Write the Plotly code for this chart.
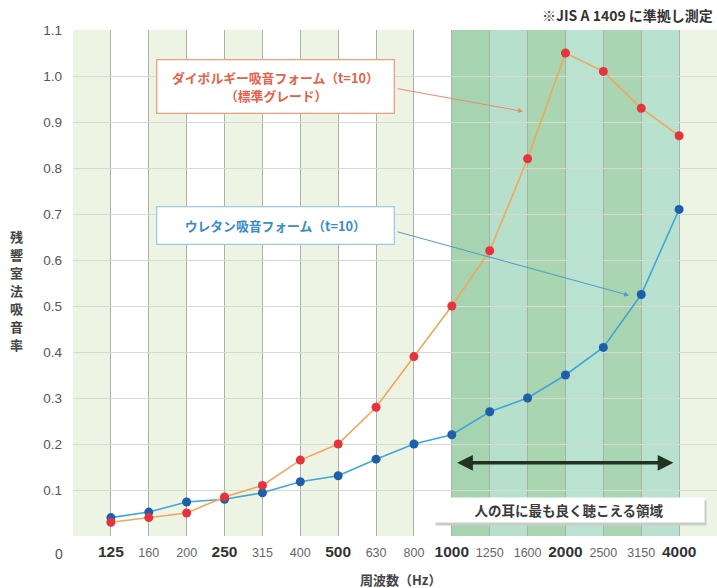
import plotly.graph_objects as go

freqs = ["125", "160", "200", "250", "315", "400", "500", "630", "800",
         "1000", "1250", "1600", "2000", "2500", "3150", "4000"]
major = {"125", "250", "500", "1000", "2000", "4000"}
daipo = [0.03, 0.04, 0.05, 0.085, 0.11, 0.165, 0.20, 0.28, 0.39,
         0.50, 0.62, 0.82, 1.05, 1.01, 0.93, 0.87]
urethane = [0.04, 0.052, 0.074, 0.08, 0.094, 0.118, 0.131, 0.167, 0.20,
            0.22, 0.27, 0.30, 0.35, 0.41, 0.525, 0.71]
yticks = [0.1, 0.2, 0.3, 0.4, 0.5, 0.6, 0.7, 0.8, 0.9, 1.0, 1.1]
ytick_text = ["0.1", "0.2", "0.3", "0.4", "0.5", "0.6", "0.7", "0.8", "0.9", "1.0", "1.1"]
# band colours, one per interval between neighbouring positions, from -1 to 16
band_colors = ["#eef4e3", "#ffffff", "#eef4e3", "#ffffff", "#eef4e3", "#ffffff",
               "#eef4e3", "#ffffff", "#eef4e3", "#ffffff",
               "#a7d4b0", "#b7e0cc", "#a9d5b0", "#b9e2d0", "#a9d5b2", "#b9e1cf",
               "#eef4e3"]
ytitle = "残響室法吸音率"
label_daipo = ["ダイポルギー吸音フォーム（t=10）", "（標準グレード）"]
label_urethane = "ウレタン吸音フォーム（t=10）"
label_range = "人の耳に最も良く聴こえる領域"
note = "※JIS A 1409 に準拠し測定"
xtitle = "周波数（Hz）"

FONT = "Noto Sans CJK JP"
NUMFONT = "Liberation Sans"
xs = list(range(len(freqs)))

fig = go.Figure()
fig.add_trace(go.Scatter(
    x=xs, y=urethane, mode="lines+markers",
    line=dict(color="#3fa6d6", width=1.6),
    marker=dict(color="#1d5fa8", size=9),
    showlegend=False, hoverinfo="skip"))
fig.add_trace(go.Scatter(
    x=xs, y=daipo, mode="lines+markers",
    line=dict(color="#f1a658", width=1.6),
    marker=dict(color="#e4343e", size=9),
    showlegend=False, hoverinfo="skip"))

shapes = []
for i, c in enumerate(band_colors):
    shapes.append(dict(type="rect", xref="x", yref="paper", x0=i - 1, x1=i,
                       y0=0, y1=1, fillcolor=c, line=dict(width=0), layer="below"))

ticktext = []
for f in freqs:
    if f in major:
        ticktext.append(f"<span style='font-size:15.5px;color:#333'><b>{f}</b></span>")
    else:
        ticktext.append(f"<span style='font-size:12.5px;color:#666'>{f}</span>")

BOX_X = 0.315
annotations = [
    # orange label box
    dict(text="", xref="paper", yref="y", x=BOX_X, y=0.978, xanchor="center",
         yanchor="middle", showarrow=False, bgcolor="#ffffff",
         bordercolor="#f0a07e", borderwidth=1.3, borderpad=0, width=236, height=52),
    dict(text=f"<b>{label_daipo[0]}</b>", xref="paper", yref="y", x=BOX_X,
         y=0.978, yshift=9, xanchor="center", yanchor="middle", showarrow=False,
         font=dict(family=FONT, size=12.8, color="#e8604a")),
    dict(text=f"<b>{label_daipo[1]}</b>", xref="paper", yref="y", x=BOX_X,
         y=0.978, yshift=-9, xanchor="center", yanchor="middle", showarrow=False,
         font=dict(family=FONT, size=12.8, color="#e8604a")),
    # blue label box
    dict(text=f"<b>{label_urethane}</b>", xref="paper", yref="y", x=BOX_X,
         y=0.676, xanchor="center", yanchor="middle", showarrow=False,
         font=dict(family=FONT, size=12.8, color="#3a8cc4"),
         bgcolor="#ffffff", bordercolor="#9ccbe2", borderwidth=1.3,
         borderpad=0, width=236, height=36),
    dict(text="", xref="x", yref="y", x=10.88, y=0.923, ax=-127, ay=-23,
         showarrow=True, arrowhead=2, arrowsize=1, arrowwidth=1,
         arrowcolor="#e88a6a"),
    dict(text="", xref="x", yref="y", x=13.68, y=0.523, ax=-233, ay=-64,
         showarrow=True, arrowhead=2, arrowsize=1, arrowwidth=1,
         arrowcolor="#4a9cc8"),
    dict(text="", xref="x", yref="y", x=14.85, y=0.159, axref="x", ayref="y",
         ax=9.1, ay=0.159, showarrow=True, arrowhead=2, startarrowhead=2,
         arrowside="end+start", arrowsize=0.9, arrowwidth=3.5,
         arrowcolor="#233323"),
    # range label with soft shadow
    dict(text="", xref="paper", yref="paper", x=0.770, y=0.051, yshift=-3,
         xshift=2, xanchor="center", yanchor="middle", showarrow=False,
         bgcolor="#c9cdc9", width=270, height=24, borderpad=0),
    dict(text=f"<b>{label_range}</b>", xref="paper", yref="paper", x=0.770,
         y=0.051, xanchor="center", yanchor="middle", showarrow=False,
         font=dict(family=FONT, size=13.5, color="#3a3a3a"),
         bgcolor="#ffffff", borderpad=0, width=270, height=24),
    dict(text=f"<b>{note}</b>", xref="paper", yref="paper",
         x=0.997, y=1.0, yshift=15, xanchor="right", yanchor="middle",
         showarrow=False, font=dict(family=FONT, size=14, color="#333")),
    dict(text="0", xref="paper", yref="paper", x=-0.021, y=0, yshift=-18,
         xanchor="center", yanchor="middle", showarrow=False,
         font=dict(family=NUMFONT, size=14, color="#555")),
    dict(text=f"<b>{xtitle}</b>", xref="paper", yref="paper", x=0.508, y=0,
         yshift=-43, xanchor="center", yanchor="middle", showarrow=False,
         font=dict(family=FONT, size=13, color="#444")),
]
for k, ch in enumerate(ytitle):
    annotations.append(dict(text=f"<b>{ch}</b>", xref="paper", yref="paper",
                            x=-0.087, y=0.485, yshift=(3 - k) * 18,
                            xanchor="center", yanchor="middle", showarrow=False,
                            font=dict(family=FONT, size=13, color="#444")))

fig.update_layout(
    width=717, height=588,
    margin=dict(l=73, r=0, t=30, b=52),
    paper_bgcolor="#ffffff", plot_bgcolor="rgba(0,0,0,0)",
    shapes=shapes, annotations=annotations,
    font=dict(family=FONT),
    xaxis=dict(range=[-1, 16], tickvals=xs, ticktext=ticktext,
               tickfont=dict(family=NUMFONT),
               showgrid=True, gridcolor="#aab2a8", gridwidth=1,
               zeroline=False, showline=False, ticks="", ticklabelstandoff=8,
               automargin=False, fixedrange=True),
    yaxis=dict(range=[0, 1.1], tickvals=yticks, ticktext=ytick_text,
               showgrid=True, gridcolor="#d6d9d4", gridwidth=1,
               zeroline=False, showline=False, ticks="", ticklabelstandoff=10,
               tickfont=dict(family=NUMFONT, size=13.5, color="#555"),
               automargin=False, fixedrange=True),
)

fig.write_html("out.html", config={"displayModeBar": False},
               post_script="document.body.style.margin='0';"
                           "document.body.style.overflow='hidden';")
